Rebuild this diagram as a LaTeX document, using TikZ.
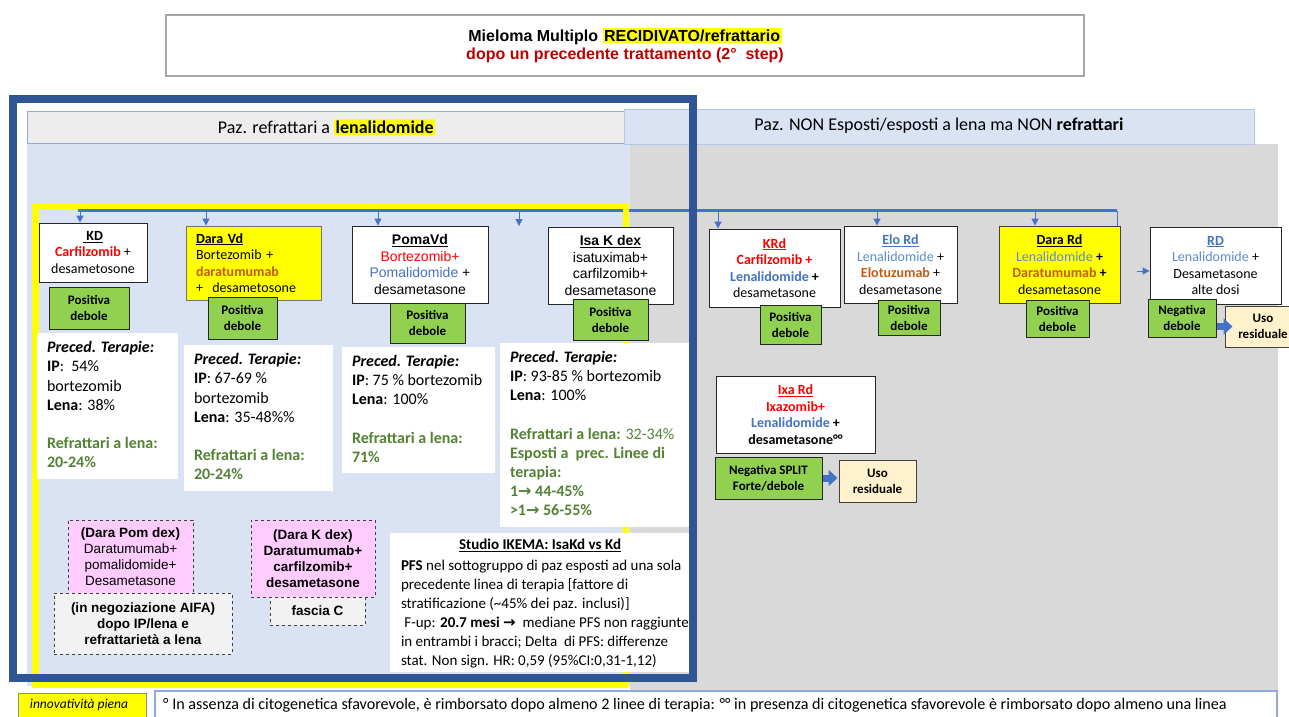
\documentclass[tikz,border=0pt]{standalone}
\usepackage{fontspec}
\setmainfont{Carlito}
\newfontfamily\arialf{Liberation Sans}
\newfontfamily\djv{DejaVu Sans}
\usetikzlibrary{arrows.meta}
\definecolor{dkblue}{HTML}{2F5597}
\definecolor{ltblue}{HTML}{DAE3F3}
\definecolor{gry}{HTML}{D9D9D9}
\definecolor{hdrgray}{HTML}{EDEDED}
\definecolor{hdrborder}{HTML}{8FAADC}
\definecolor{hdrborder2}{HTML}{B4C7E7}
\definecolor{busblue}{HTML}{4472C4}
\definecolor{grnfill}{HTML}{92D050}
\definecolor{txtred}{HTML}{FF0000}
\definecolor{titred}{HTML}{C00000}
\definecolor{txtblue}{HTML}{4472C4}
\definecolor{txtblue2}{HTML}{5B8BD5}
\definecolor{txtorange}{HTML}{C55A11}
\definecolor{txtgreen}{HTML}{548235}
\definecolor{pinkfill}{HTML}{FFCCFF}
\definecolor{usofill}{HTML}{FFF2CC}
\definecolor{ylw}{HTML}{FFFF00}
\definecolor{dashfill}{HTML}{F2F2F2}
\newcommand\fs[2]{\fontsize{#1}{#2}\selectfont}
\newcommand\hly[1]{{\setlength{\fboxsep}{1.5pt}\colorbox{ylw}{#1}}}
\newcommand\bxx[6]{\node[#2,minimum width={#5pt-#3pt},minimum height={#6pt-#4pt}] (#1) at ({(#3+#5)/2},{(#4+#6)/2})}
\tikzset{
  drug/.style={draw=black!85, line width=0.9pt, fill=white, inner sep=0pt, align=center, font=\fs{14}{16.5}},
  adrug/.style={drug, font=\arialf\fs{14}{16.8}},
  ydrug/.style={drug, fill=ylw, draw=black!55},
  grn/.style={draw=black!85, line width=1pt, fill=grnfill, inner sep=0pt, align=center, font=\bfseries\fs{13}{16}},
  prec/.style={fill=white, inner sep=0pt},
  prectxt/.style={anchor=north west, inner sep=0pt, align=left, font=\fs{16}{19.2}},
  pinkb/.style={draw=black!75, dashed, line width=0.9pt, fill=pinkfill, inner sep=0pt, align=center, font=\arialf\fs{13.5}{16}},
  dashg/.style={pinkb, fill=dashfill, font=\arialf\bfseries\fs{13.5}{16}},
  usob/.style={draw=black!75, line width=1pt, fill=usofill, inner sep=0pt, align=center, font=\bfseries\fs{13}{16}},
  hdrL/.style={draw=hdrborder, line width=1pt, fill=hdrgray, inner sep=0pt, font=\fs{18}{20}},
  hdrR/.style={draw=hdrborder2, line width=1pt, fill=ltblue, inner sep=0pt, font=\fs{18}{20}},
  bus/.style={draw=busblue, line width=3pt},
  busthin/.style={draw=busblue, line width=1pt},
  tick/.style={draw=busblue, line width=1pt, -{Triangle[width=7pt,length=7pt]}},
  blockarr/.style={draw=busblue, line width=7pt, -{Triangle[width=16pt,length=9pt]}},
}
\begin{document}
\begin{tikzpicture}[x=1pt,y=-1pt]
\useasboundingbox (0,0) rectangle (1289,716);
\fill[white] (0,0) rectangle (1289,716);

% backgrounds
\fill[ltblue] (27,143) rectangle (630,686);
\fill[gry] (630,144) rectangle (1278,690);

% headers
\bxx{hl}{hdrL}{27}{111}{626}{143}{Paz. refrattari a \hly{\textbf{lenalidomide}}};
\bxx{hr}{hdrR}{624}{109}{1254}{144}{\strut Paz. NON Esposti/esposti a lena ma NON \textbf{refrattari}};

% bus line
\coordinate (busL) at (78,210.5);
\coordinate (busR) at (1117,210.5);
\coordinate (busD) at (1117,226);
\draw[bus] (busL) -- (busR);
\draw[busthin] (busR) -- (busD);

% yellow frame
\draw[ylw, line width=6.5pt] (35.5,206) rectangle (626,684.5);

% ---- left drugs
\bxx{kd}{drug}{39}{223}{147}{282}{\underline{\textbf{\ KD}}\\{\color{txtred}\bfseries Carfilzomib} +\\desametosone};
\bxx{kdg}{grn}{49}{287}{129}{329}{Positiva\\debole};

\bxx{daravd}{ydrug, align=left, text width=115pt, inner xsep=10pt}{186}{226}{321}{300}{\underline{\textbf{Dara Vd}}\\Bortezomib +\\{\color{txtorange}\bfseries daratumumab}\\+\ \ desametosone};
\bxx{daravdg}{grn}{208}{297}{277}{339}{Positiva\\debole};

\bxx{pomavd}{adrug}{352}{226}{488}{303}{\underline{\textbf{PomaVd}}\\{\color{txtred}Bortezomib+}\\{\color{txtblue}Pomalidomide} +\\desametasone};
\bxx{pomavdg}{grn}{390}{303}{465}{343}{Positiva\\debole};

\bxx{isa}{adrug}{548}{227}{673}{304}{\underline{\textbf{Isa K dex}}\\isatuximab+\\carfilzomib+\\desametasone};
\bxx{isag}{grn}{573}{299}{648}{340}{Positiva\\debole};

% preced boxes
\bxx{kdp}{prec}{37}{333}{178}{479}{};
\node[prectxt] (kdpt) at ([shift={(10,8.5)}]kdp.north west) {\textbf{\textit{Preced. Terapie:}}\\\textbf{IP}:\ \ 54\%\\bortezomib\\\textbf{Lena}: 38\%\\[19.2pt]{\color{txtgreen}\bfseries Refrattari a lena:}\\{\color{txtgreen}\bfseries 20-24\%}};

\bxx{darap}{prec}{184}{345}{333}{491}{};
\node[prectxt] (darapt) at ([shift={(10,8.5)}]darap.north west) {\textbf{\textit{Preced. Terapie:}}\\\textbf{IP}: 67-69 \%\\bortezomib\\\textbf{Lena}: 35-48\%\%\\[19.2pt]{\color{txtgreen}\bfseries Refrattari a lena:}\\{\color{txtgreen}\bfseries 20-24\%}};

\bxx{pomap}{prec}{342}{347}{495}{473}{};
\node[prectxt] (pomapt) at ([shift={(10,8)}]pomap.north west) {\textbf{\textit{Preced. Terapie:}}\\\textbf{IP}: 75 \% bortezomib\\\textbf{Lena}: 100\%\\[19.2pt]{\color{txtgreen}\bfseries Refrattari a lena:}\\{\color{txtgreen}\bfseries 71\%}};

\bxx{isap}{prec}{500}{343}{691}{527}{};
\node[prectxt] (isapt) at ([shift={(10,8)}]isap.north west) {\textbf{\textit{Preced. Terapie:}}\\\textbf{IP}: 93-85 \% bortezomib\\\textbf{Lena}: 100\%\\[19.2pt]{\color{txtgreen}\textbf{Refrattari a lena:} 32-34\%}\\{\color{txtgreen}\bfseries Esposti a\ \ prec. Linee di}\\{\color{txtgreen}\bfseries terapia:}\\{\color{txtgreen}\bfseries 1{\djv\bfseries →} 44-45\%}\\{\color{txtgreen}\bfseries >1{\djv\bfseries →} 56-55\%}};

% pink / dashed boxes
\bxx{darapom}{pinkb}{68}{520}{193}{593}{\textbf{(Dara Pom dex)}\\Daratumumab+\\pomalidomide+\\Desametasone};
\bxx{negoz}{dashg}{54}{593}{232}{654}{(in negoziazione AIFA)\\dopo IP/lena e\\refrattarietà a lena};
\bxx{darak}{pinkb, font=\arialf\bfseries\fs{13.5}{16}}{251}{520}{375}{597}{(Dara K dex)\\Daratumumab+\\carfilzomib+\\desametasone};
\bxx{fascia}{dashg}{270}{597}{365}{625}{fascia C};

% IKEMA box
\bxx{ikema}{prec}{390}{533}{691}{672}{};
\node[inner sep=0pt, font=\bfseries\fs{15}{18}] (iktitle) at (540,545) {\underline{Studio IKEMA: IsaKd vs Kd}};
\node[prectxt, font=\fs{15}{19}] (ikbody) at ([shift={(11,27)}]ikema.north west) {\textbf{PFS} nel sottogruppo di paz esposti ad una sola\\precedente linea di terapia [fattore di\\stratificazione (\textasciitilde45\% dei paz. inclusi)]\\\ F-up: \textbf{20.7 mesi} {\djv\bfseries →}\ \ mediane PFS non raggiunte\\in entrambi i bracci; Delta\ \ di PFS: differenze\\stat. Non sign. HR: 0,59 (95\%CI:0,31-1,12)};

% ---- right drugs
\bxx{krd}{drug}{709}{229}{840}{307}{{\color{txtred}\bfseries\underline{KRd}}\\{\color{txtred}\bfseries Carfilzomib +}\\{\bfseries{\color{txtblue}Lenalidomide} +}\\desametasone};
\bxx{krdg}{grn}{760}{305}{821}{344}{Positiva\\debole};

\bxx{elord}{drug}{844}{226}{957}{303}{{\color{txtblue}\bfseries\underline{Elo Rd}}\\{\color{txtblue2}Lenalidomide} +\\{\color{txtorange}\bfseries Elotuzumab} +\\desametasone};
\bxx{elordg}{grn}{878}{300}{940}{335}{Positiva\\debole};

\bxx{darard}{ydrug, draw=black!75}{999}{226}{1120}{303}{\underline{\textbf{Dara Rd}}\\{\color{txtblue2}Lenalidomide} \textbf{+}\\{\color{txtorange}\bfseries Daratumumab} \textbf{+}\\desametasone};
\bxx{darardg}{grn}{1026}{300}{1089}{337}{Positiva\\debole};

\bxx{rd}{drug}{1150}{227}{1281}{304}{{\color{txtblue}\bfseries\underline{RD}}\\{\color{txtblue2}Lenalidomide} +\\Desametasone\\alte dosi};
\bxx{rdg}{grn}{1148}{299}{1216}{337}{Negativa\\debole};
\bxx{rduso}{usob}{1225}{306}{1301}{347}{Uso\\residuale};
\draw[blockarr] (rdg.east |- rduso.west) -- ([xshift=8pt]rduso.west);

\bxx{ixa}{drug}{716}{376}{875}{453}{{\color{txtred}\bfseries\underline{Ixa Rd}}\\{\color{txtred}\bfseries Ixazomib+}\\{\bfseries{\color{txtblue}Lenalidomide} +}\\{\bfseries desametasone°°}};
\bxx{ixag}{grn}{715}{457}{822}{499}{Negativa SPLIT\\Forte/debole};
\bxx{ixauso}{usob}{839}{460}{916}{502}{Uso\\residuale};
\draw[blockarr] (ixag.east) -- ([xshift=-1pt]ixag.east -| ixauso.west);

% ticks from bus
\coordinate (t1) at (80,210.5);
\coordinate (t2) at (206,210.5);
\coordinate (t3) at (378,210.5);
\coordinate (t4) at (519,210.5);
\coordinate (t4e) at (519,226);
\coordinate (t5) at (718,210.5);
\coordinate (t6) at (877,210.5);
\coordinate (t7) at (1035,210.5);
\coordinate (rdin) at (1137,271);
\draw[tick] (t1) -- (t1 |- kd.north);
\draw[tick] (t2) -- (t2 |- daravd.north);
\draw[tick] (t3) -- (t3 |- pomavd.north);
\draw[tick] (t4) -- (t4e);
\draw[tick] (t5) -- (t5 |- krd.north);
\draw[tick] (t6) -- (t6 |- elord.north);
\draw[tick] (t7) -- (t7 |- darard.north);
\draw[tick] (rdin) -- (rdin -| rd.west);

% blue frame
\draw[dkblue, line width=8pt] (13,99) rectangle (693,677.5);

% title
\bxx{title}{draw=black!35, line width=1.2pt, fill=white, inner sep=0pt, align=center, font=\arialf\bfseries\fs{16}{18}}{166}{15}{1084}{76}{Mieloma Multiplo \hly{RECIDIVATO/refrattario}\\{\color{titred}dopo un precedente trattamento (2°\ \ step)}};

% footer
\bxx{innov}{draw=black!45, line width=0.8pt, fill=ylw, inner sep=0pt}{18}{693}{146}{722}{};
\node[inner sep=0pt, font=\itshape\fs{13.5}{15}] (innovt) at (79,705) {innovatività piena};
\bxx{note}{draw=hdrborder, line width=1.5pt, fill=white, inner sep=0pt}{155}{691}{1277}{724}{};
\node[anchor=west, inner sep=0pt, font=\fs{16.1}{18}] (notet) at (163,705) {° In assenza di citogenetica sfavorevole, è rimborsato dopo almeno 2 linee di terapia: °° in presenza di citogenetica sfavorevole è rimborsato dopo almeno una linea};
\end{tikzpicture}
\end{document}
